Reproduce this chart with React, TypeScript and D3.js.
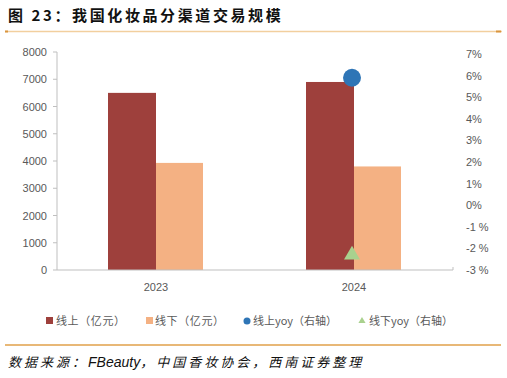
import React from "react";
import * as d3 from "d3";

const categories = ["2023", "2024"];
const online = [6500, 6900];
const offline = [3930, 3800];
const onlineYoy: (number | null)[] = [null, 5.9];
const offlineYoy: (number | null)[] = [null, -2.3];
const leftTicks = [0, 1000, 2000, 3000, 4000, 5000, 6000, 7000, 8000];
const rightTicks = [-3, -2, -1, 0, 1, 2, 3, 4, 5, 6, 7];

const W = 507, H = 378;
const plotL = 57, plotR = 453, plotT = 52, plotB = 270;
const FONT = "'Liberation Sans', Arial, 'Noto Sans CJK SC', sans-serif";
const CJK = "'Noto Sans CJK SC', sans-serif";
const C_ON = "#9e403c", C_OFF = "#f4b183", C_BLUE = "#2e75b6", C_GREEN = "#a9d18e";

export default function App() {
  const x = d3.scaleBand<string>().domain(categories).range([plotL, plotR]).paddingInner(0).paddingOuter(0);
  const yL = d3.scaleLinear().domain([0, 8000]).range([plotB, plotT]);
  const yR = d3.scaleLinear().domain([-3, 7]).range([270, 54]);
  const barW = 48;
  const tri = d3.symbol().type(d3.symbolTriangle).size(110)();

  return (
    <svg width={W} height={H} style={{ position: "absolute", left: 0, top: 0 }}>
      <rect width={W} height={H} fill="#fff" />
      <text x={8} y={21} fontFamily={CJK} fontSize={15} fontWeight="bold" fill="#111" letterSpacing={2.6}>图 23：我国化妆品分渠道交易规模</text>
      <line x1={5} x2={502} y1={31.5} y2={31.5} stroke="#f2cf9e" strokeWidth={1.5} />
      <rect x={5} y={30.5} width={3} height={2} fill="#d9953e" />
      <rect x={496} y={30.5} width={5} height={2} fill="#d9953e" />

      {/* left axis */}
      <line x1={plotL} x2={plotL} y1={yL(8000)} y2={plotB} stroke="#bfbfbf" />
      {leftTicks.map((t) => (
        <g key={t}>
          <line x1={plotL - 4} x2={plotL} y1={yL(t)} y2={yL(t)} stroke="#bfbfbf" />
          <text x={plotL - 10} y={yL(t) + 4} textAnchor="end" fontFamily={FONT} fontSize={11} fill="#595959">{t}</text>
        </g>
      ))}
      {rightTicks.map((t) => (
        <text key={t} x={466} y={yR(t) + 4} fontFamily={FONT} fontSize={11} fill="#595959">{t < 0 ? `${t} %` : `${t}%`}</text>
      ))}

      {/* bars */}
      {categories.map((c, i) => {
        const cx = (x(c) as number) + x.bandwidth() / 2;
        return (
          <g key={c}>
            <rect x={cx - barW} y={yL(online[i])} width={barW} height={plotB - yL(online[i])} fill={C_ON} />
            <rect x={cx} y={yL(offline[i])} width={barW - 1} height={plotB - yL(offline[i])} fill={C_OFF} />
            <text x={cx} y={291} textAnchor="middle" fontFamily={FONT} fontSize={11} fill="#595959">{c}</text>
          </g>
        );
      })}
      <line x1={plotL} x2={plotR} y1={plotB} y2={plotB} stroke="#bfbfbf" />
      <line x1={plotR} x2={plotR} y1={plotB - 3} y2={plotB} stroke="#bfbfbf" />

      {/* yoy markers */}
      {categories.map((c, i) => {
        const cx = (x(c) as number) + x.bandwidth() / 2 - 2;
        return (
          <g key={"m" + c}>
            {onlineYoy[i] !== null && <circle cx={cx} cy={yR(onlineYoy[i] as number)} r={9} fill={C_BLUE} />}
            {offlineYoy[i] !== null && <path d={tri as string} transform={`translate(${cx},${yR(offlineYoy[i] as number)})`} fill={C_GREEN} />}
          </g>
        );
      })}

      {/* legend */}
      <rect x={46} y={317} width={7} height={7} fill={C_ON} />
      <text x={56} y={325} fontFamily={CJK} fontSize={11} fill="#595959" letterSpacing={0.6}>线上（亿元）</text>
      <rect x={146} y={317} width={7} height={7} fill={C_OFF} />
      <text x={155} y={325} fontFamily={CJK} fontSize={11} fill="#595959" letterSpacing={0.6}>线下（亿元）</text>
      <circle cx={247} cy={321} r={3.5} fill={C_BLUE} />
      <text x={253} y={325} fontFamily={CJK} fontSize={11} fill="#595959">线上yoy（右轴）</text>
      <path d={d3.symbol().type(d3.symbolTriangle).size(22)() as string} transform="translate(362,321)" fill={C_GREEN} />
      <text x={369} y={325} fontFamily={CJK} fontSize={11} fill="#595959">线下yoy（右轴）</text>

      <line x1={5} x2={501} y1={345} y2={345} stroke="#e0a04a" strokeWidth={1.5} />
      <text x={8} y={367} fontFamily={CJK} fontSize={13} fontStyle="italic" fill="#111" letterSpacing={3}>数据来源：<tspan fontFamily={FONT} fontSize={14} letterSpacing={0}>FBeauty</tspan>，中国香妆协会，西南证券整理</text>
    </svg>
  );
}
